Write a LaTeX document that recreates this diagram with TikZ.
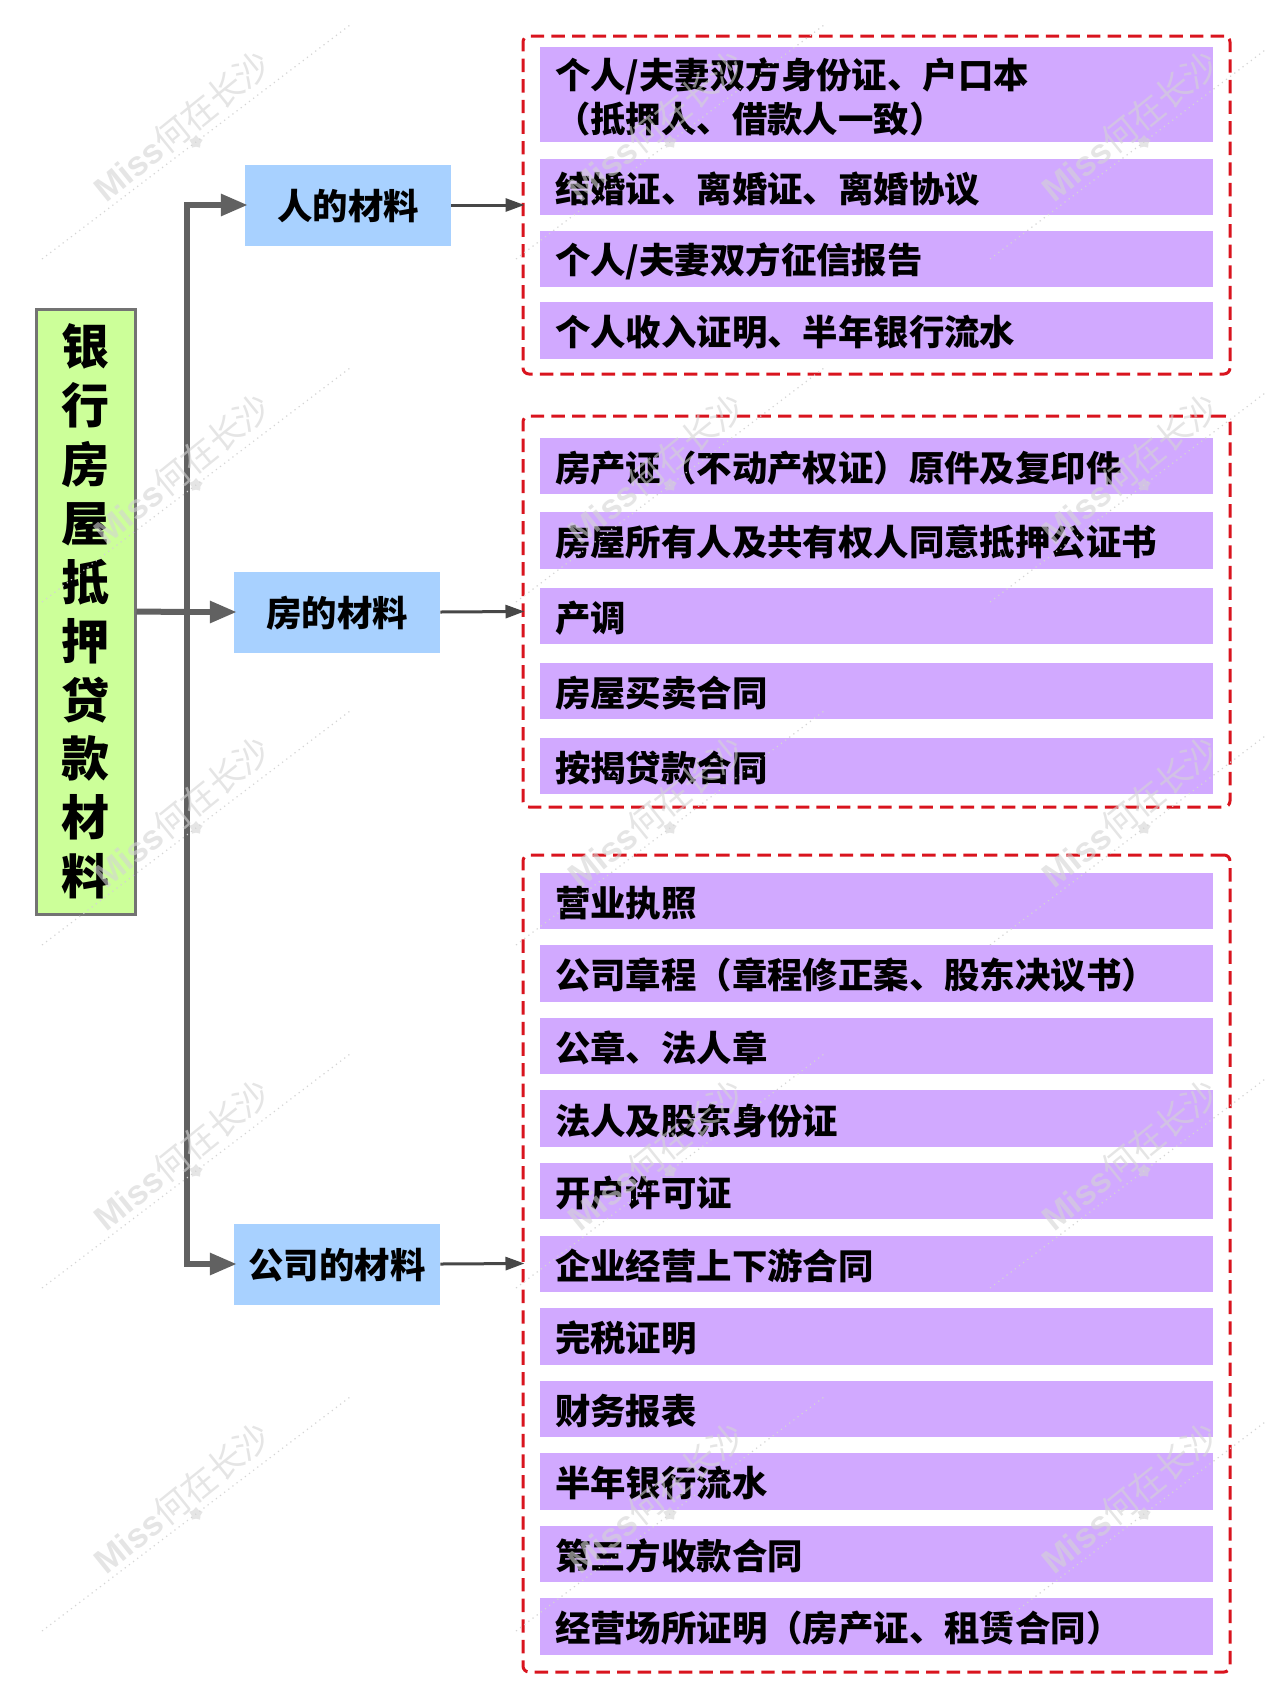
\documentclass[tikz,border=0pt]{standalone}
\usepackage{fontspec}
\usepackage{tikz}
\usepackage{color}
\usetikzlibrary{arrows.meta,shapes.geometric}
\setmainfont{Noto Sans CJK SC}
\newfontfamily\wmlatin{Liberation Sans}
\definecolor{titlegreen}{HTML}{CCFF99}
\definecolor{groupblue}{HTML}{A8D1FF}
\definecolor{itempurple}{HTML}{D1A9FF}
\definecolor{framered}{HTML}{D9141E}
\definecolor{wmgray}{HTML}{D4D4D4}
\tikzset{
    title/.style={draw=black!55,line width=1.5pt,fill=titlegreen,minimum width=49.5pt,minimum height=302.5pt,inner sep=0pt,align=center,font=\fontsize{24}{29.45}\selectfont\bfseries},
    group/.style={fill=groupblue,minimum width=103pt,minimum height=40.5pt,inner sep=0pt,text height=16.3pt,text depth=2pt,font=\fontsize{17.7}{21.8}\selectfont\bfseries},
    item/.style={fill=itempurple,minimum height=28.3pt,text width=321.5pt,inner xsep=7.5pt,inner ysep=0pt,align=left,font=\fontsize{17.7}{21.8}\selectfont\bfseries,execute at end node={\vspace*{-2.2pt}}},
    frame/.style={draw=framered,line width=1.5pt,dash pattern=on 6.7pt off 3.6pt,rounded corners=3pt,minimum width=353.5pt,inner sep=0pt},
    trunk/.style={draw=black!62,line width=3pt},
    trunkarrow/.style={trunk,shorten >=-1.6pt,-{Triangle[length=13.5pt,width=10.5pt]}},
    thinarrow/.style={draw=black!72,line width=1.5pt,shorten >=-1.5pt,-{Triangle[length=9.5pt,width=6.5pt]}},
    wmtext/.style={text=wmgray,text opacity=.6,rotate=39,inner sep=0pt,font=\fontsize{17.3}{18}\selectfont}
}
\begin{document}
\begin{tikzpicture}[x=0.5pt,y=-0.5pt]
        \useasboundingbox (0,0) rectangle (1266,1708);

        % frames
        \node[frame,minimum height=169pt] (personframe) at (876.5,205) {};
        \node[frame,minimum height=195.5pt] (houseframe) at (876.5,611.5) {};
        \node[frame,minimum height=408.5pt] (companyframe) at (876.5,1263.5) {};

        % title and groups
        \node[title] (loan) at (85.5,611.5) {银\\行\\房\\屋\\抵\\押\\贷\\款\\材\\料};
        \node[group] (person) at (348,205) {人的材料};
        \node[group] (house) at (337,612) {房的材料};
        \node[group] (company) at (337,1264) {公司的材料};
        \coordinate (hub) at (187,612);

        % items of the person
        \node[item,minimum height=47.5pt] (p1) at (876.5,94.5) {个人/夫妻双方身份证、户口本\\（抵押人、借款人一致）};
        \node[item] (p2) at (876.5,187) {结婚证、离婚证、离婚协议};
        \node[item] (p3) at (876.5,259) {个人/夫妻双方征信报告};
        \node[item] (p4) at (876.5,330.5) {个人收入证明、半年银行流水};

        % items of the house
        \node[item] (h1) at (876.5,466) {房产证（不动产权证）原件及复印件};
        \node[item] (h2) at (876.5,540.5) {房屋所有人及共有权人同意抵押公证书};
        \node[item] (h3) at (876.5,616) {产调};
        \node[item] (h4) at (876.5,691) {房屋买卖合同};
        \node[item] (h5) at (876.5,766) {按揭贷款合同};

        % items of the company
        \node[item] (c1) at (876.5,901) {营业执照};
        \node[item] (c2) at (876.5,973.6) {公司章程（章程修正案、股东决议书）};
        \node[item] (c3) at (876.5,1046) {公章、法人章};
        \node[item] (c4) at (876.5,1118.7) {法人及股东身份证};
        \node[item] (c5) at (876.5,1191) {开户许可证};
        \node[item] (c6) at (876.5,1264) {企业经营上下游合同};
        \node[item] (c7) at (876.5,1336.3) {完税证明};
        \node[item] (c8) at (876.5,1409) {财务报表};
        \node[item] (c9) at (876.5,1481.4) {半年银行流水};
        \node[item] (c10) at (876.5,1554) {第三方收款合同};
        \node[item] (c11) at (876.5,1626.5) {经营场所证明（房产证、租赁合同）};

        %% arrows
        \draw[trunk] (hub) -- (loan.east);
        \draw[trunkarrow] (hub) |- (person.west);
        \draw[trunkarrow] (hub) |- (company.west);
        \draw[trunkarrow] (hub) -- (house.west);
        \draw[thinarrow] (person.east) -- (personframe.west);
        \draw[thinarrow] (house.east) -- (houseframe.west);
        \draw[thinarrow] (company.east) -- (companyframe.west);

        % watermarks
        \foreach \col in {0,1,2} {
            \foreach \row in {0,1,2,3,4} {
                \begin{scope}[shift={(196+474*\col,142+343*\row)}]
                    \node[wmtext] (wm\col\row) at (-14,-16) {{\wmlatin\bfseries Miss}何在长沙};
                    \node[star,star points=5,fill=wmgray,fill opacity=.6,minimum size=7pt,inner sep=0pt] (wmstar\col\row) at (0,0) {};
                    \coordinate (wmleft\col\row) at (-154,117);
                    \coordinate (wmright\col\row) at (154,-117);
                    \draw[wmgray,line width=.6pt,dotted] (wmleft\col\row) -- (wmright\col\row);
                \end{scope}
            }
        }
\end{tikzpicture}
\end{document}
